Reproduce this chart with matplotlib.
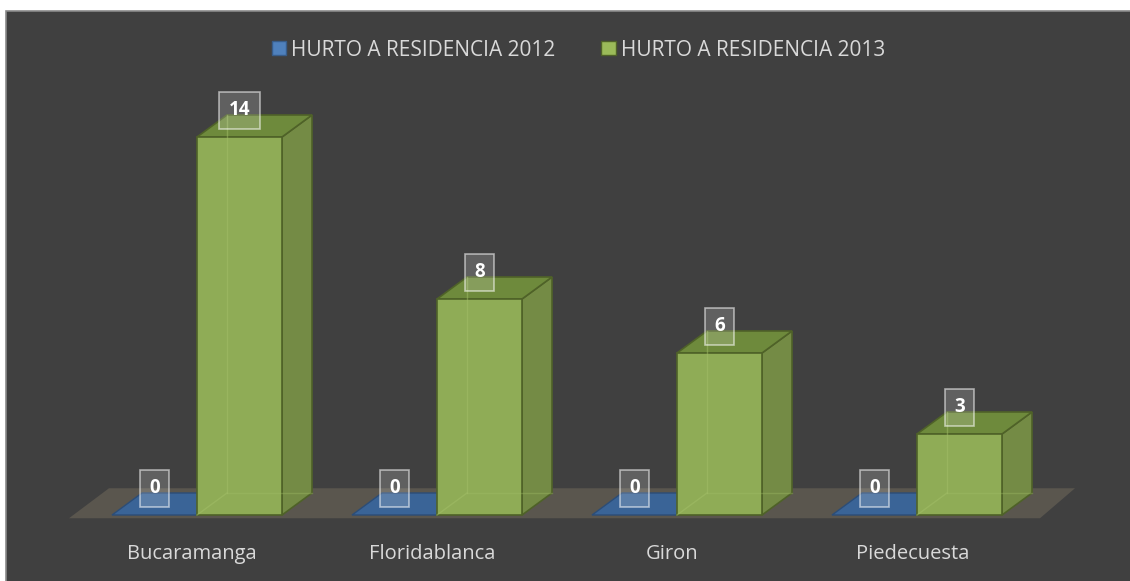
import matplotlib
matplotlib.use("Agg")
import matplotlib.pyplot as plt
from matplotlib.patches import Polygon, Rectangle

categories = ["Bucaramanga", "Floridablanca", "Giron", "Piedecuesta"]
series_names = ["HURTO A RESIDENCIA 2012", "HURTO A RESIDENCIA 2013"]
values_2012 = [0, 0, 0, 0]
values_2013 = [14, 8, 6, 3]

BG = "#404040"
TXT = "#d9d9d9"
plt.rcParams['font.family'] = ['Open Sans', 'DejaVu Sans']

FW, FH = 1130, 581
fig = plt.figure(figsize=(FW / 100, FH / 100), dpi=100, facecolor="white")

# dark chart area (starts at x=6, y=11 from top-left), with grey border
fig.patches.append(Rectangle((6 / FW, -0.01), 1.02, 1 - 11 / FH + 0.01,
                             transform=fig.transFigure, facecolor=BG,
                             edgecolor="#8a8a8a", lw=1.2, zorder=-5))

ax = fig.add_axes([0, 0, 1, 1])
ax.set_zorder(2)
ax.patch.set_alpha(0)
px_x = 240.0  # pixels per category
px_y = 27.0   # pixels per unit
ax.set_xlim(-197 / px_x, (FW - 197) / px_x)
ax.set_ylim(-(FH - 515) / px_y, 515 / px_y)
ax.axis("off")

W = 85 / px_x
DX = 30 / px_x
DY = 22 / px_y

# floor
ax.add_patch(Polygon([(-128 / px_x, -0.12), (843 / px_x, -0.12),
                      (878 / px_x, -0.12 + 30 / px_y), (-88 / px_x, -0.12 + 30 / px_y)],
                     closed=True, facecolor="#5a564e", edgecolor="none", zorder=1))


def label(xc, yc, val):
    s = str(val)
    wpx = 17 + 11.5 * len(s)
    hpx = 37
    ax.add_patch(Rectangle((xc - wpx / 2 / px_x, yc - hpx / 2 / px_y), wpx / px_x, hpx / px_y,
                           facecolor=(1, 1, 1, 0.17), edgecolor=(1, 1, 1, 0.55),
                           lw=1.2, zorder=6))
    ax.text(xc, yc, s, ha="center", va="center", color="white",
            fontsize=13.5, fontweight="bold", zorder=7)


for i, (v12, v13) in enumerate(zip(values_2012, values_2013)):
    # 2012 bars (blue)
    x0, x1 = i - W, i
    if v12 == 0:
        ax.add_patch(Polygon([(x0, 0), (x1, 0), (x1 + DX, DY), (x0 + DX, DY)],
                             closed=True, facecolor="#3a6497", edgecolor="#2c4d77",
                             lw=1, zorder=2))
    else:
        ax.add_patch(Rectangle((x0, 0), W, v12, facecolor="#4f81bd", zorder=3))
    # 2013 bars (green)
    g0, g1 = i, i + W
    h = v13
    ax.add_patch(Polygon([(g1, 0), (g1 + DX, DY), (g1 + DX, h + DY), (g1, h)],
                         closed=True, facecolor="#748b45", edgecolor="#4f6228",
                         lw=1.2, zorder=3))
    ax.add_patch(Polygon([(g0, h), (g1, h), (g1 + DX, h + DY), (g0 + DX, h + DY)],
                         closed=True, facecolor="#6e8a3c", edgecolor="#4f6228",
                         lw=1.2, zorder=3))
    ax.add_patch(Rectangle((g0, 0), W, h, facecolor="#8fac56", edgecolor="#4f6228",
                           lw=1.2, zorder=4))
    # faint hidden back edges seen through the translucent front
    ax.plot([g0 + DX, g0 + DX], [DY, h + DY], color="#a3bf68", lw=1, alpha=0.5, zorder=5)
    ax.plot([g0, g0 + DX], [0, DY], color="#a3bf68", lw=1, alpha=0.5, zorder=5)
    ax.plot([g0 + DX, g1 + DX], [DY, DY], color="#a3bf68", lw=1, alpha=0.35, zorder=5)

    label(x0 + W * 0.5, 1.0 + v12, v12)
    label(g0 + W * 0.5, h + 1.0, v13)

    ax.text(i - 0.02, -(559 - 515) / px_y, categories[i], ha="center", va="baseline",
            color=TXT, fontsize=14.5, zorder=6)

# legend
handles = [Rectangle((0, 0), 1, 1, facecolor="#4f81bd", edgecolor="#385d8a"),
           Rectangle((0, 0), 1, 1, facecolor="#9bbb59", edgecolor="#4f6228")]
leg = fig.legend(handles, series_names, loc="center", bbox_to_anchor=(578.5 / FW, 1 - 50 / FH),
                 ncol=2, frameon=False, fontsize=15, handlelength=0.68, handleheight=0.68,
                 handletextpad=0.25, columnspacing=2.2, labelcolor=TXT, borderpad=0)
leg.set_zorder(10)

fig.savefig("out.png", dpi=100, facecolor="white")
